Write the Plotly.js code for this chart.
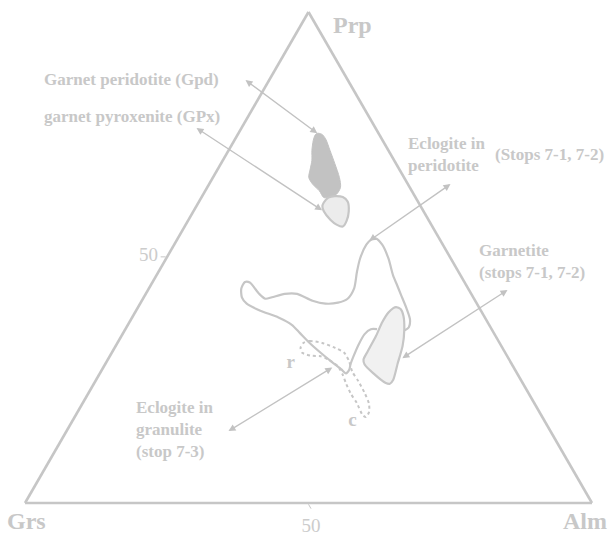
<!DOCTYPE html>
<html>
<head>
<meta charset="utf-8">
<script src="https://cdn.plot.ly/plotly-3.0.1.min.js"></script>
<style>
html, body { margin: 0; padding: 0; background: #ffffff; }
#chart { width: 612px; height: 536px; }
</style>
</head>
<body>
<div id="chart"></div>
<script>
// ---- vertex components and axis ticks ----
const components = ['Prp', 'Grs', 'Alm'];
const tickValues = [50];
const tickLabels = ['50'];

// ---- Garnet peridotite (Gpd) field (mol %) ----
const gpdPrp = [75.3, 75.1, 74.2, 71.8, 69.1, 66.3, 64.3, 62.9, 62.3, 62.2, 63.6, 64.9, 66.3, 68.0, 69.8, 71.8, 73.9, 74.9, 75.3];
const gpdGrs = [10.8, 10.1, 9.9, 10.3, 10.8, 11.4, 12.2, 13.6, 15.3, 16.2, 16.3, 16.8, 16.8, 15.7, 14.5, 13.5, 12.2, 11.4, 10.8];
const gpdAlm = [13.9, 14.8, 15.9, 17.9, 20.1, 22.3, 23.5, 23.5, 22.4, 21.6, 20.1, 18.3, 16.9, 16.3, 15.7, 14.7, 13.9, 13.7, 13.9];

// ---- garnet pyroxenite (GPx) field ----
const gpxPrp = [61.2, 62.2, 62.5, 62.3, 61.4, 59.4, 57.4, 56.3, 56.7, 57.7, 59.4, 60.5, 61.2];
const gpxGrs = [16.7, 15.4, 14.1, 12.8, 12.4, 13.2, 14.6, 15.8, 16.7, 17.3, 17.6, 17.3, 16.7];
const gpxAlm = [22.1, 22.4, 23.4, 24.9, 26.2, 27.4, 28.0, 27.9, 26.6, 25.0, 23.0, 22.2, 22.1];

// ---- Eclogite in peridotite field (outline) ----
const eclPerPrp = [35.1, 35.8, 37.4, 39.6, 42.3, 44.3, 46.4, 49.8, 52.6, 53.9, 53.6, 52.6, 49.8, 47.1, 43.7, 41.6, 40.8, 40.6, 41.2, 42.6, 42.6, 41.9, 41.6, 42.6, 44.9, 45.0, 43.7, 41.9, 40.6, 39.2, 37.8, 36.3, 34.6, 32.6, 30.5, 28.7, 27.2, 26.4, 27.2, 28.2, 29.9, 32.3, 34.4, 35.4, 35.4];
const eclPerGrs = [15.6, 14.4, 13.4, 12.9, 12.5, 12.2, 11.9, 11.0, 10.7, 11.2, 12.2, 13.5, 16.0, 17.9, 20.1, 22.3, 24.4, 26.7, 28.7, 30.7, 32.9, 35.5, 36.8, 37.4, 37.9, 38.7, 40.0, 40.8, 40.6, 39.0, 36.4, 34.8, 34.2, 33.5, 32.5, 31.5, 30.6, 30.2, 29.2, 28.5, 27.1, 25.0, 22.9, 21.3, 20.2];
const eclPerAlm = [49.3, 49.8, 49.2, 47.5, 45.2, 43.5, 41.7, 39.2, 36.7, 34.9, 34.2, 33.9, 34.2, 35.0, 36.2, 36.1, 34.8, 32.7, 30.1, 26.7, 24.5, 22.6, 21.6, 20.0, 17.2, 16.3, 16.3, 17.3, 18.8, 21.8, 25.8, 28.9, 31.2, 33.9, 37.0, 39.8, 42.2, 43.4, 43.6, 43.3, 43.0, 42.7, 42.7, 43.3, 44.4];

// ---- Garnetite field ----
const grtPrp = [39.9, 39.5, 38.1, 35.4, 32.0, 28.5, 25.1, 24.3, 24.5, 26.5, 28.2, 29.2, 30.9, 34.0, 36.8, 38.8, 39.7, 39.9];
const grtGrs = [14.6, 14.0, 14.2, 15.4, 17.4, 20.0, 22.5, 23.5, 24.2, 25.4, 26.0, 25.7, 24.1, 21.1, 18.6, 16.5, 15.2, 14.6];
const grtAlm = [45.5, 46.5, 47.7, 49.2, 50.6, 51.5, 52.4, 52.2, 51.3, 48.1, 45.8, 45.1, 45.0, 44.9, 44.6, 44.7, 45.1, 45.5];

// ---- Eclogite in granulite field (rim r to core c) ----
const eclGraPrp = [32.6, 33.0, 32.6, 31.6, 30.6, 28.9, 26.8, 24.7, 22.3, 20.3, 18.6, 17.5, 17.9, 20.3, 22.3, 24.4, 26.1, 27.8, 29.2, 29.9, 30.0, 30.6, 31.6, 32.6];
const eclGraGrs = [34.6, 33.3, 31.3, 29.5, 28.4, 28.4, 28.9, 28.8, 28.9, 29.2, 30.0, 31.1, 31.5, 31.3, 31.4, 31.2, 30.9, 30.9, 31.9, 32.9, 34.5, 35.8, 35.6, 34.6];
const eclGraAlm = [32.8, 33.7, 36.1, 38.9, 41.0, 42.7, 44.3, 46.5, 48.8, 50.5, 51.4, 51.4, 50.6, 48.4, 46.3, 44.4, 43.0, 41.3, 38.9, 37.2, 35.5, 33.6, 32.8, 32.8];

// ---- rim / core point labels ----
const pointLabels = ['r', 'c'];
const pointPrp = [28.5, 16.7];
const pointGrs = [38.9, 33.9];
const pointAlm = [32.6, 49.4];

// ---- field names and the composition each arrow points at ----
const fieldNames = ['Gpd', 'GPx', 'EclPer', 'Grt', 'EclGra'];
const arrowPrp = [75.3, 59.6, 53.4, 29.5, 27.6];
const arrowGrs = [10.8, 17.8, 12.6, 18.7, 32.0];
const arrowAlm = [13.9, 22.6, 34.0, 51.8, 40.4];

// ================= layout geometry =================
const W = 612, H = 536;
const M = { l: 25, r: 20, t: 12, b: 33 };
const PW = W - M.l - M.r;
const PH = H - M.t - M.b;
const TRI_W = Math.min(PW, PH * 2 / Math.sqrt(3));
const TRI_H = TRI_W * Math.sqrt(3) / 2;
const TRI_LEFT = M.l + PW / 2 - TRI_W / 2;
const TRI_BOTTOM = M.t + PH / 2 + TRI_H / 2;

function ternToPx(a, b, c) {
  const s = a + b + c;
  const fa = a / s, fc = c / s;
  return [TRI_LEFT + TRI_W * (fc + fa / 2), TRI_BOTTOM - TRI_H * fa];
}
const pxToPaperX = x => (x - M.l) / PW;
const pxToPaperY = y => (M.t + PH - y) / PH;

const GRAY = '#c6c6c6';
const TXT = '#c8c8c8';
const SERIF = 'Liberation Serif, Times New Roman, serif';

// arrow tails sit next to the labels (page pixels)
const arrowTails = { Gpd: [244, 79], GPx: [195, 127], EclPer: [452, 183], Grt: [509, 289], EclGra: [227, 432] };

// label blocks: [text, left x, centre y]
const labelBlocks = [
  ['Garnet peridotite (Gpd)', 43, 80],
  ['garnet pyroxenite (GPx)', 43, 116],
  ['Eclogite in<br>peridotite', 407, 154],
  ['(Stops 7-1, 7-2)', 494, 155],
  ['Garnetite<br>(stops 7-1, 7-2)', 478, 261],
  ['Eclogite in<br>granulite<br>(stop 7-3)', 135, 429]
];
const vertexLabels = [
  [components[0], 332, 25],
  [components[1], 6, 521],
  [components[2], 562, 521]
];

// ================= traces =================
const traces = [
  {
    type: 'scatterternary', mode: 'lines', name: 'Garnet peridotite (Gpd)',
    a: gpdPrp, b: gpdGrs, c: gpdAlm,
    fill: 'toself', fillcolor: '#c2c2c2',
    line: { color: '#c2c2c2', width: 1, shape: 'spline', smoothing: 0.8 }
  },
  {
    type: 'scatterternary', mode: 'lines', name: 'garnet pyroxenite (GPx)',
    a: gpxPrp, b: gpxGrs, c: gpxAlm,
    fill: 'toself', fillcolor: '#ececec',
    line: { color: GRAY, width: 2.2, shape: 'spline', smoothing: 0.8 }
  },
  {
    type: 'scatterternary', mode: 'lines', name: 'Eclogite in peridotite',
    a: eclPerPrp, b: eclPerGrs, c: eclPerAlm,
    line: { color: GRAY, width: 2.2, shape: 'spline', smoothing: 0.7 }
  },
  {
    type: 'scatterternary', mode: 'lines', name: 'Garnetite',
    a: grtPrp, b: grtGrs, c: grtAlm,
    fill: 'toself', fillcolor: '#f1f1f1',
    line: { color: GRAY, width: 2.2, shape: 'spline', smoothing: 0.7 }
  },
  {
    type: 'scatterternary', mode: 'lines', name: 'Eclogite in granulite',
    a: eclGraPrp, b: eclGraGrs, c: eclGraAlm,
    line: { color: GRAY, width: 2, dash: 'dot', shape: 'spline', smoothing: 0.7 }
  },
  {
    type: 'scatterternary', mode: 'text', name: 'rim / core',
    a: pointPrp, b: pointGrs, c: pointAlm, text: pointLabels,
    textposition: 'middle center', cliponaxis: false,
    textfont: { family: SERIF, size: 19, color: TXT, weight: 'bold' }
  }
];

// ================= annotations =================
const annotations = [];
fieldNames.forEach((f, i) => {
  const head = ternToPx(arrowPrp[i], arrowGrs[i], arrowAlm[i]);
  const tail = arrowTails[f];
  annotations.push({
    xref: 'paper', yref: 'paper',
    x: pxToPaperX(head[0]), y: pxToPaperY(head[1]),
    ax: tail[0] - head[0], ay: tail[1] - head[1],
    text: '', showarrow: true,
    arrowside: 'end+start', arrowhead: 2, startarrowhead: 2,
    arrowsize: 1, startarrowsize: 1, arrowwidth: 1.4, arrowcolor: '#c2c2c2',
    standoff: 0, startstandoff: 0
  });
});
labelBlocks.forEach(([t, x, y]) => {
  annotations.push({
    xref: 'paper', yref: 'paper', x: pxToPaperX(x), y: pxToPaperY(y),
    xanchor: 'left', yanchor: 'middle', align: 'left', showarrow: false, text: t,
    borderpad: 0,
    font: { family: SERIF, size: 17, color: TXT, weight: 'bold' }
  });
});
vertexLabels.forEach(([t, x, y]) => {
  annotations.push({
    xref: 'paper', yref: 'paper', x: pxToPaperX(x), y: pxToPaperY(y),
    xanchor: 'left', yanchor: 'middle', showarrow: false, text: t,
    borderpad: 0,
    font: { family: SERIF, size: 24, color: TXT, weight: 'bold' }
  });
});

function axisStyle(showTicks) {
  return {
    title: { text: '' },
    min: 0,
    linecolor: GRAY, linewidth: 2.6, showline: true,
    showgrid: false,
    tickmode: 'array', tickvals: showTicks ? tickValues : [], ticktext: showTicks ? tickLabels : [],
    ticks: showTicks ? 'outside' : '', ticklen: 5, tickwidth: 1, tickcolor: GRAY,
    showticklabels: showTicks,
    tickfont: { family: SERIF, size: 19, color: '#cccccc' }
  };
}

const layout = {
  width: W, height: H,
  margin: M,
  paper_bgcolor: '#ffffff',
  showlegend: false,
  hovermode: false,
  ternary: {
    sum: 100,
    bgcolor: '#ffffff',
    domain: { x: [0, 1], y: [0, 1] },
    aaxis: axisStyle(true),
    baxis: axisStyle(true),
    caxis: axisStyle(false)
  },
  annotations: annotations
};

Plotly.newPlot('chart', traces, layout, { staticPlot: true, displayModeBar: false });
</script>
</body>
</html>
